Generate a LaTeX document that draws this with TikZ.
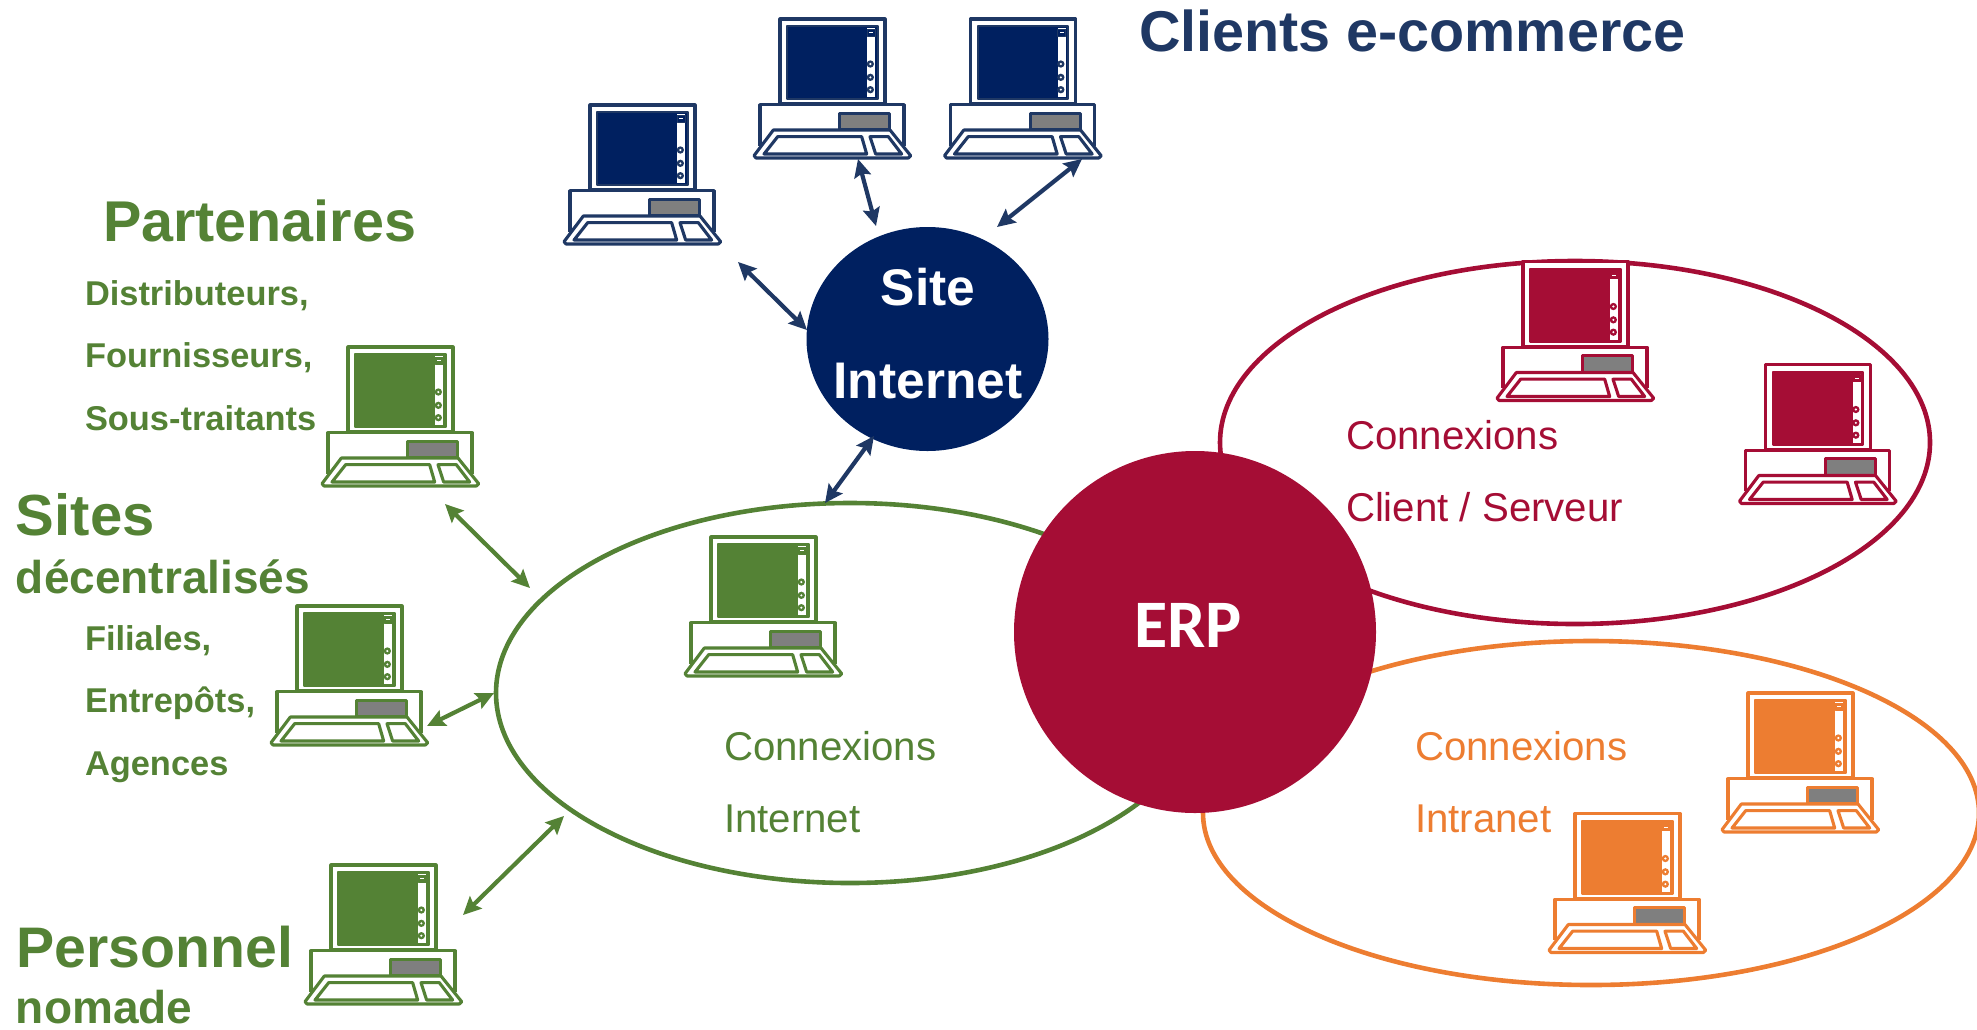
\documentclass[tikz,border=0pt]{standalone}
\usepackage{fontspec}
\setmainfont{Liberation Sans}
\newfontfamily\erpfont{Carlito}
\usetikzlibrary{arrows.meta,shapes.geometric}
\definecolor{cnavy}{HTML}{002060}
\definecolor{cnavyl}{HTML}{1F3864}
\definecolor{cgreen}{HTML}{548235}
\definecolor{cred}{HTML}{A50D35}
\definecolor{corange}{HTML}{ED7D31}
\definecolor{cgray}{HTML}{7F7F7F}
\newcommand{\fsz}[1]{\fontsize{#1}{#1}\selectfont}
\newcommand{\pccomp}[4]{%
\begin{scope}[shift={(#1,#2)},x=0.33333pt,y=-0.33333pt,draw=#3,line width=3.1pt,line join=round]
 \fill[white] (60,302) rectangle (492,425);
 \filldraw[fill=white] (120,45) rectangle (435,300);
 \filldraw[fill=#4,line width=2.2pt] (142,67) rectangle (413,285);
 \fill[white] (382,72) rectangle (406,280);
 \filldraw[fill=#4,draw=#3,line width=1pt] (382,75) rectangle (405,96);
 \fill[white] (387,84) rectangle (399,88);
 \foreach \ky in {180,220,257} {\fill[#3] (391,\ky) circle (11); \fill[white] (391,\ky) circle (3.5);}
 \draw (60,425) -- (60,302) -- (492,302) -- (492,425);
 \filldraw[fill=cgray] (299,328) rectangle (449,378);
 \filldraw[fill=white] (100,378) -- (450,378) -- (512,455) -- (505,462) -- (48,462) -- (42,455) -- cycle;
 \draw (113,398) -- (365,398) -- (380,450) -- (72,450) -- cycle;
 \draw (390,398) -- (445,398) -- (485,450) -- (407,450) -- cycle;
\end{scope}}
\tikzset{
 txt/.style={inner sep=0pt,outer sep=0pt,anchor=base west,font=\fsz{#1}},
 btxt/.style={inner sep=0pt,outer sep=0pt,anchor=base west,font=\fsz{#1}\bfseries,text=cgreen},
 ring/.style={ellipse,draw,line width=4.6pt,inner sep=0pt,minimum width=#1},
 dbl/.style={{Stealth[length=18pt,width=17pt,inset=3pt]}-{Stealth[length=18pt,width=17pt,inset=3pt]},line width=4.2pt},
}
\begin{document}
\begin{tikzpicture}[x=1pt,y=-1pt]
\useasboundingbox (0,0) rectangle (1977,1029);
% rings
\node[ring=708pt,draw=cgreen,minimum height=380pt] (ringweb) at (850,693) {};
\node[ring=710pt,draw=cred,minimum height=363pt] (ringcs) at (1575,442.5) {};
\node[ring=776pt,draw=corange,minimum height=344pt] (ringintra) at (1591,813) {};
% hubs
\node[circle,fill=cred,minimum size=362pt,inner sep=0pt] (erp) at (1195,632) {};
\node[ellipse,fill=cnavy,minimum width=242pt,minimum height=224pt,inner sep=0pt] (site) at (927.5,339) {};
% computers
\pccomp{550}{90}{cnavyl}{cnavy}
\pccomp{740}{4}{cnavyl}{cnavy}
\pccomp{930.5}{4}{cnavyl}{cnavy}
\pccomp{308}{332}{cgreen}{cgreen}
\pccomp{257}{591}{cgreen}{cgreen}
\pccomp{291}{850}{cgreen}{cgreen}
\pccomp{671}{522}{cgreen}{cgreen}
\pccomp{1483}{246.5}{cred}{cred}
\pccomp{1725.5}{349.5}{cred}{cred}
\pccomp{1708}{678}{corange}{corange}
\pccomp{1535}{798.5}{corange}{corange}
% connector ends
\coordinate (a1s) at (738,262); \coordinate (a1e) at (807,330);
\coordinate (a2s) at (858,159); \coordinate (a2e) at (876,226);
\coordinate (a3s) at (1082,159); \coordinate (a3e) at (997,227);
\coordinate (a4s) at (874,436); \coordinate (a4e) at (825,503);
\coordinate (a5s) at (445,504); \coordinate (a5e) at (530,588);
\coordinate (a6s) at (494,693); \coordinate (a6e) at (427,726);
\coordinate (a7s) at (564,816); \coordinate (a7e) at (463,915);
\draw[dbl,cnavyl] (a1s) -- (a1e);
\draw[dbl,cnavyl] (a2s) -- (a2e);
\draw[dbl,cnavyl] (a3s) -- (a3e);
\draw[dbl,cnavyl] (a4s) -- (a4e);
\draw[dbl,cgreen] (a5s) -- (a5e);
\draw[dbl,cgreen] (a6s) -- (a6e);
\draw[dbl,cgreen] (a7s) -- (a7e);
% texts
\node[btxt=57.5,text=cnavyl] (tclients) at (1139,51) {Clients e-commerce};
\node[btxt=57.5] (tpart) at (103,241) {Partenaires};
\node[btxt=34.4] (tdist) at (85,305) {Distributeurs,};
\node[btxt=34.4] (tfour) at (85,367) {Fournisseurs,};
\node[btxt=34.4] (tsous) at (85,430) {Sous-traitants};
\node[btxt=58] (tsites) at (16,535) {Sites};
\node[btxt=46] (tdec) at (16,593) {décentralisés};
\node[btxt=34.4] (tfil) at (85,650) {Filiales,};
\node[btxt=34.4] (tent) at (85,712) {Entrepôts,};
\node[btxt=34.4] (tag) at (85,775) {Agences};
\node[btxt=57.2] (tpers) at (16.5,967) {Personnel};
\node[btxt=46] (tnom) at (16,1023) {nomade};
\node[txt=40.2,text=cgreen] (twebA) at (724,760) {Connexions};
\node[txt=40.2,text=cgreen] (twebB) at (724,832) {Internet};
\node[txt=40.2,text=cred] (tcsA) at (1346,449) {Connexions};
\node[txt=40.2,text=cred] (tcsB) at (1346,521) {Client / Serveur};
\node[txt=40.2,text=corange] (tinA) at (1415,760) {Connexions};
\node[txt=40.2,text=corange] (tinB) at (1415,832) {Intranet};
\node[btxt=51.5,text=white,anchor=base] (tsiteA) at (928,305) {Site};
\node[btxt=51.5,text=white,anchor=base] (tsiteB) at (928,398) {Internet};
\node[inner sep=0pt,anchor=base,text=white,font=\fsz{68}\erpfont\bfseries] (terp) at (1188,647) {ERP};
\end{tikzpicture}
\end{document}
